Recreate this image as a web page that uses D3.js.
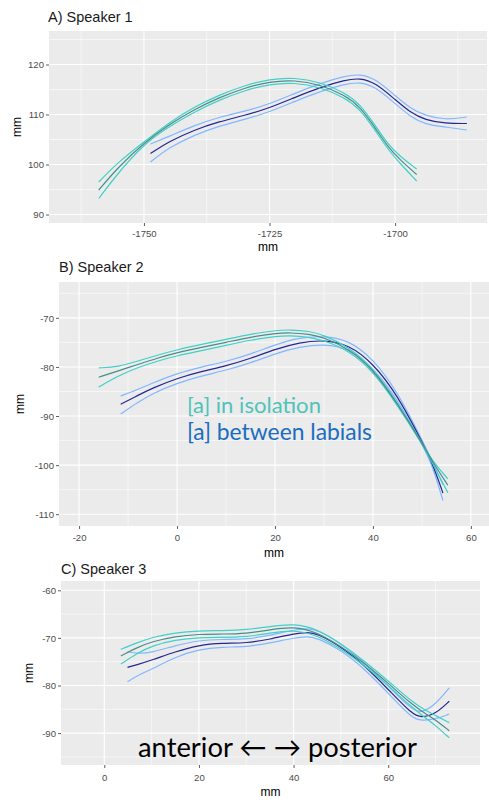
<!DOCTYPE html>
<html>
<head>
<meta charset="utf-8">
<title>Tongue contours</title>
<script src="https://cdn.jsdelivr.net/npm/d3@7"></script>
<style>
    html, body { margin: 0; padding: 0; background: #fff; }
    svg { display: block; font-family: "Liberation Sans", Arial, sans-serif; }
</style>
</head>
<body>
<svg id="chart" width="489" height="800"></svg>
<script>
// ── Speaker 1 ──────────────────────────────────────────────
const s1IsoX     = [-1759, -1755, -1750, -1745, -1740, -1735, -1730, -1725, -1720, -1715, -1710, -1707, -1704, -1701.5, -1699, -1695.7];
const s1IsoMean  = [94.9, 99.6, 104.3, 108.0, 111.0, 113.4, 115.3, 116.6, 116.9, 116.0, 113.9, 111.6, 107.4, 103.6, 100.9, 98.0];
const s1IsoUpper = [96.5, 100.6, 104.5, 108.4, 111.5, 113.9, 115.8, 117.1, 117.4, 116.5, 114.4, 112.1, 107.9, 104.1, 101.6, 99.1];
const s1IsoLower = [93.2, 98.5, 104.1, 107.6, 110.5, 112.9, 114.8, 116.1, 116.4, 115.5, 113.4, 111.1, 106.9, 103.1, 100.2, 96.7];

const s1LabX     = [-1748.7, -1745, -1740, -1735, -1730, -1725, -1720, -1715, -1710, -1707, -1704, -1700, -1697, -1694, -1690, -1685.7];
const s1LabMean  = [102.2, 104.6, 106.9, 108.6, 109.8, 111.3, 113.4, 115.4, 116.9, 117.3, 116.4, 113.0, 110.4, 108.9, 108.2, 108.2];
const s1LabUpper = [104.1, 105.6, 107.8, 109.5, 110.6, 112.1, 114.2, 116.2, 117.7, 118.1, 117.2, 113.8, 111.2, 109.8, 108.9, 109.5];
const s1LabLower = [100.5, 103.4, 105.9, 107.7, 109.0, 110.5, 112.6, 114.6, 116.1, 116.5, 115.6, 112.2, 109.6, 108.0, 107.5, 106.9];

// ── Speaker 2 ──────────────────────────────────────────────
const s2IsoX     = [-16, -12, -8, -4, 0, 5, 10, 15, 20, 23, 27, 30, 35, 40, 45, 50, 52, 55.3];
const s2IsoMean  = [-82.1, -80.8, -79.5, -78.2, -77.1, -76.0, -75.0, -73.9, -73.2, -73.0, -73.3, -74.0, -76.2, -80.4, -87.5, -95.4, -99.1, -104.1];
const s2IsoUpper = [-80.2, -80.0, -78.8, -77.6, -76.5, -75.4, -74.4, -73.3, -72.6, -72.4, -72.7, -73.5, -75.9, -80.1, -87.3, -95.3, -99.0, -102.8];
const s2IsoLower = [-84.1, -81.8, -80.1, -78.8, -77.7, -76.7, -75.6, -74.5, -73.8, -73.6, -73.9, -74.6, -76.6, -80.8, -87.8, -95.6, -99.3, -105.6];

const s2LabX     = [-11.5, -8, -5, 0, 5, 10, 15, 20, 25, 30, 35, 40, 45, 50, 52, 54.3];
const s2LabMean  = [-87.6, -85.8, -84.3, -82.3, -80.9, -79.8, -78.3, -76.4, -75.0, -74.5, -75.4, -79.2, -85.7, -95.2, -99.2, -105.7];
const s2LabUpper = [-85.9, -84.6, -83.3, -81.3, -80.0, -78.9, -77.4, -75.5, -74.0, -73.7, -74.5, -78.3, -85.0, -94.8, -99.0, -104.0];
const s2LabLower = [-89.6, -87.2, -85.4, -83.3, -81.8, -80.7, -79.2, -77.3, -75.9, -75.3, -76.2, -80.1, -86.5, -95.7, -99.6, -107.2];

// ── Speaker 3 ──────────────────────────────────────────────
const s3IsoX     = [3.5, 7, 10, 15, 20, 25, 30, 35, 40, 45, 50, 55, 60, 65, 68, 70, 72.9];
const s3IsoMean  = [-73.8, -72.0, -70.8, -69.7, -69.2, -69.2, -69.1, -68.3, -67.6, -68.8, -71.8, -75.3, -79.5, -84.0, -86.0, -87.2, -89.5];
const s3IsoUpper = [-72.4, -71.0, -69.9, -68.9, -68.5, -68.5, -68.3, -67.6, -67.0, -68.1, -71.2, -74.9, -79.0, -83.4, -85.3, -86.3, -87.8];
const s3IsoLower = [-75.5, -73.2, -71.7, -70.4, -69.9, -69.9, -69.8, -69.0, -68.3, -69.4, -72.3, -75.8, -80.0, -84.6, -86.9, -88.4, -91.0];

const s3LabX     = [4.9, 7, 10, 15, 20, 25, 30, 35, 40, 43, 45, 50, 55, 60, 65, 67, 70, 72.9];
const s3LabMean  = [-76.2, -75.6, -74.7, -72.9, -71.5, -71.1, -71.1, -70.3, -69.1, -68.8, -69.1, -71.8, -75.8, -80.8, -86.0, -86.8, -86.0, -83.3];
const s3LabUpper = [-72.9, -73.3, -73.1, -71.6, -70.5, -70.3, -70.3, -69.5, -68.3, -68.0, -68.3, -71.1, -75.2, -80.1, -85.1, -85.8, -84.0, -80.5];
const s3LabLower = [-79.2, -77.9, -76.6, -74.0, -72.4, -71.9, -71.9, -71.1, -70.0, -69.7, -70.0, -72.5, -76.5, -81.6, -86.9, -87.4, -87.1, -86.0];

// ── Axis ticks ─────────────────────────────────────────────
const s1XTicks = [-1750, -1725, -1700];
const s1XMinor = [-1762.5, -1737.5, -1712.5, -1687.5];
const s1YTicks = [90, 100, 110, 120];
const s1YMinor = [95, 105, 115, 125];

const s2XTicks = [-20, 0, 20, 40, 60];
const s2XMinor = [-10, 10, 30, 50];
const s2YTicks = [-110, -100, -90, -80, -70];
const s2YMinor = [-105, -95, -85, -75, -65];

const s3XTicks = [0, 20, 40, 60];
const s3XMinor = [10, 30, 50, 70];
const s3YTicks = [-90, -80, -70, -60];
const s3YMinor = [-95, -85, -75, -65];

const panelTitles = ['A) Speaker 1', 'B) Speaker 2', 'C) Speaker 3'];
const legendLabels = ['[a] in isolation', '[a] between labials'];
const directionLabel = 'anterior \u2190 \u2192 posterior';

(function () {
    'use strict';

    const COL = {
        panel: '#ebebeb',
        isoBand: '#3fd0c8',
        isoMean: '#4b8c89',
        labBand: '#80b8ff',
        labMean: '#262690',
        tickText: '#4d4d4d',
        tick: '#333333'
    };

    const svg = d3.select('#chart');

    const panels = [
        {
            title: panelTitles[0], titleX: 48, titleY: 22,
            left: 49, right: 487, top: 31, bottom: 223,
            xDomain: [-1768.9, -1681.7], yDomain: [88.3, 126.7],
            xTicks: s1XTicks, xMinor: s1XMinor, yTicks: s1YTicks, yMinor: s1YMinor,
            xLabelY: 236.5, xTitleY: 251, yTitleX: 21,
            iso: { x: s1IsoX, mean: s1IsoMean, upper: s1IsoUpper, lower: s1IsoLower },
            lab: { x: s1LabX, mean: s1LabMean, upper: s1LabUpper, lower: s1LabLower }
        },
        {
            title: panelTitles[1], titleX: 59, titleY: 272,
            left: 59, right: 489, top: 282, bottom: 526,
            xDomain: [-24.1, 63.7], yDomain: [-112.4, -62.7],
            xTicks: s2XTicks, xMinor: s2XMinor, yTicks: s2YTicks, yMinor: s2YMinor,
            xLabelY: 541, xTitleY: 556.5, yTitleX: 24,
            iso: { x: s2IsoX, mean: s2IsoMean, upper: s2IsoUpper, lower: s2IsoLower },
            lab: { x: s2LabX, mean: s2LabMean, upper: s2LabUpper, lower: s2LabLower }
        },
        {
            title: panelTitles[2], titleX: 61, titleY: 574,
            left: 61, right: 480, top: 581, bottom: 765,
            xDomain: [-9.15, 79.4], yDomain: [-96.7, -58.05],
            xTicks: s3XTicks, xMinor: s3XMinor, yTicks: s3YTicks, yMinor: s3YMinor,
            xLabelY: 780.5, xTitleY: 796, yTitleX: 33,
            iso: { x: s3IsoX, mean: s3IsoMean, upper: s3IsoUpper, lower: s3IsoLower },
            lab: { x: s3LabX, mean: s3LabMean, upper: s3LabUpper, lower: s3LabLower }
        }
    ];

    panels.forEach((p, i) => drawPanel(p, i));

    // Annotations
    const legend = svg.append('g').attr('font-family', 'Lato, "Open Sans", sans-serif');
    const isoText = legend.append('text')
        .attr('x', 187).attr('y', 413)
        .attr('font-size', 20)
        .attr('fill', '#4fc3b9')
        .text(legendLabels[0]);
    fitText(isoText, 134);
    const labText = legend.append('text')
        .attr('x', 187).attr('y', 440)
        .attr('font-size', 20)
        .attr('fill', '#1a6dc0')
        .text(legendLabels[1]);
    fitText(labText, 185);

    const dirText = svg.append('text')
        .attr('x', 138).attr('y', 757)
        .attr('font-family', 'Lato, "Open Sans", sans-serif')
        .attr('font-size', 28)
        .attr('fill', '#000')
        .text(directionLabel);
    fitText(dirText, 279);

    function fitText(sel, width) {
        const w = sel.node().getComputedTextLength();
        const fs = parseFloat(sel.attr('font-size'));
        if (w > 0) sel.attr('font-size', (fs * width / w).toFixed(2));
    }

    function drawPanel(p, idx) {
        const x = d3.scaleLinear().domain(p.xDomain).range([p.left, p.right]);
        const y = d3.scaleLinear().domain(p.yDomain).range([p.bottom, p.top]);
        const g = svg.append('g').attr('class', 'panel');

        // Background
        g.append('rect')
            .attr('x', p.left).attr('y', p.top)
            .attr('width', p.right - p.left).attr('height', p.bottom - p.top)
            .attr('fill', COL.panel);

        // Grid: minor then major
        const inX = v => x(v) >= p.left && x(v) <= p.right;
        const inY = v => y(v) >= p.top && y(v) <= p.bottom;

        g.append('g').selectAll('line').data(p.xMinor.filter(inX)).join('line')
            .attr('x1', d => x(d)).attr('x2', d => x(d))
            .attr('y1', p.top).attr('y2', p.bottom)
            .attr('stroke', '#fff').attr('stroke-width', 0.55);
        g.append('g').selectAll('line').data(p.yMinor.filter(inY)).join('line')
            .attr('y1', d => y(d)).attr('y2', d => y(d))
            .attr('x1', p.left).attr('x2', p.right)
            .attr('stroke', '#fff').attr('stroke-width', 0.55);
        g.append('g').selectAll('line').data(p.xTicks).join('line')
            .attr('x1', d => x(d)).attr('x2', d => x(d))
            .attr('y1', p.top).attr('y2', p.bottom)
            .attr('stroke', '#fff').attr('stroke-width', 1.1);
        g.append('g').selectAll('line').data(p.yTicks).join('line')
            .attr('y1', d => y(d)).attr('y2', d => y(d))
            .attr('x1', p.left).attr('x2', p.right)
            .attr('stroke', '#fff').attr('stroke-width', 1.1);

        // Axes (plain hyphen minus, no thousands separator, like ggplot)
        const fmt = d => String(d);
        const xAxis = g.append('g')
            .attr('transform', `translate(0,${p.bottom})`)
            .call(d3.axisBottom(x).tickValues(p.xTicks).tickFormat(fmt).tickSize(3).tickPadding(3));
        const yAxis = g.append('g')
            .attr('transform', `translate(${p.left},0)`)
            .call(d3.axisLeft(y).tickValues(p.yTicks).tickFormat(fmt).tickSize(3).tickPadding(2));

        [xAxis, yAxis].forEach(ax => {
            ax.select('.domain').remove();
            ax.selectAll('.tick line').attr('stroke', COL.tick).attr('stroke-width', 0.8);
            ax.selectAll('.tick text')
                .attr('fill', COL.tickText)
                .attr('font-size', 9.6)
                .attr('font-family', '"Liberation Sans", Arial, sans-serif');
        });
        xAxis.selectAll('.tick text').attr('dy', null).attr('y', p.xLabelY - p.bottom);
        yAxis.selectAll('.tick text').attr('dy', '0.35em');

        // Curves
        const clipId = 'clip' + idx;
        g.append('clipPath').attr('id', clipId).append('rect')
            .attr('x', p.left).attr('y', p.top)
            .attr('width', p.right - p.left).attr('height', p.bottom - p.top);

        const line = d3.line()
            .x(d => x(d[0]))
            .y(d => y(d[1]))
            .curve(d3.curveBasis);

        const curves = g.append('g').attr('clip-path', `url(#${clipId})`);
        const series = [
            { xs: p.lab.x, ys: p.lab.upper, color: COL.labBand },
            { xs: p.lab.x, ys: p.lab.lower, color: COL.labBand },
            { xs: p.lab.x, ys: p.lab.mean, color: COL.labMean },
            { xs: p.iso.x, ys: p.iso.upper, color: COL.isoBand },
            { xs: p.iso.x, ys: p.iso.lower, color: COL.isoBand },
            { xs: p.iso.x, ys: p.iso.mean, color: COL.isoMean }
        ];

        curves.selectAll('path').data(series).join('path')
            .attr('d', s => line(s.xs.map((v, k) => [v, s.ys[k]])))
            .attr('fill', 'none')
            .attr('stroke', s => s.color)
            .attr('stroke-width', 1.2);

        // Titles
        g.append('text')
            .attr('x', p.titleX).attr('y', p.titleY)
            .attr('font-size', 14.5)
            .attr('fill', '#1a1a1a')
            .text(p.title);

        g.append('text')
            .attr('x', (p.left + p.right) / 2).attr('y', p.xTitleY)
            .attr('text-anchor', 'middle')
            .attr('font-size', 12)
            .attr('fill', '#000')
            .text('mm');

        g.append('text')
            .attr('transform', `translate(${p.yTitleX},${(p.top + p.bottom) / 2}) rotate(-90)`)
            .attr('text-anchor', 'middle')
            .attr('font-size', 12)
            .attr('fill', '#000')
            .text('mm');
    }
})();
</script>
</body>
</html>
